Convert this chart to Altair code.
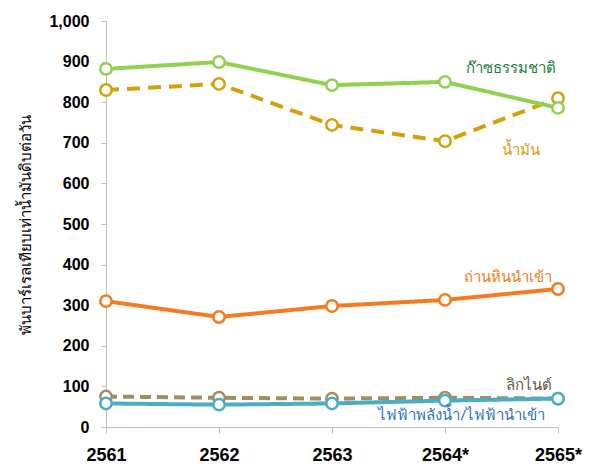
import altair as alt
import pandas as pd

years = ["2561", "2562", "2563", "2564*", "2565*"]
series_names = ["ลิกไนต์", "ไฟฟ้าพลังน้ำ/ไฟฟ้านำเข้า", "ถ่านหินนำเข้า", "น้ำมัน", "ก๊าซธรรมชาติ"]
lignite = [75, 72, 70, 72, 70]
hydro = [58, 55, 58, 65, 70]
coal = [310, 271, 298, 313, 340]
oil = [830, 845, 744, 704, 810]
gas = [882, 899, 842, 850, 786]

line_colors = ["#A08F5C", "#4BACC6", "#F47B20", "#D4A10A", "#92D050"]
label_colors = ["#5F5A45", "#2E75B6", "#F47B20", "#D4A10A", "#1E7B3A"]
dashes = [[11, 6], [1, 0], [1, 0], [13, 8], [1, 0]]
label_x = ["2565*", "2565*", "2565*", "2565*", "2565*"]
label_y = [103, 30, 369, 682, 884]
label_dx = [-6, -13, -6, -18, -2]

values = [lignite, hydro, coal, oil, gas]

yscale = alt.Scale(domain=[0, 1000])
xscale = alt.Scale(domain=years, padding=0)

layers = []
for i, name in enumerate(series_names):
    df = pd.DataFrame({"year": years, "value": values[i], "series": name})
    base = alt.Chart(df).encode(
        x=alt.X("year:N", scale=xscale, sort=years, axis=alt.Axis(
            title=None, labelAngle=0, labelFontSize=18, labelFontWeight="bold",
            labelColor="#000000", labelFont="Liberation Sans", domainColor="#BFBFBF",
            tickColor="#BFBFBF", tickSize=6, labelPadding=13, grid=False)),
        y=alt.Y("value:Q", scale=yscale, axis=alt.Axis(
            title="พันบาร์เรลเทียบเท่าน้ำมันดิบต่อวัน", titleFontSize=15,
            titleFontWeight="normal", titleColor="#000000", titleFont="Noto Sans",
            titlePadding=15, values=list(range(0, 1001, 100)), format=",.0f",
            labelFontSize=16, labelFontWeight="bold", labelColor="#000000",
            labelFont="Liberation Sans", domainColor="#BFBFBF", tickColor="#BFBFBF",
            tickSize=5, labelPadding=12, grid=False)),
    )
    ln = base.mark_line(color=line_colors[i], strokeWidth=4, strokeDash=dashes[i])
    pt = base.mark_point(shape="circle", size=130, filled=True, fill="white",
                         stroke=line_colors[i], strokeWidth=2.5, opacity=1)
    layers += [ln, pt]

for i, name in enumerate(series_names):
    ldf = pd.DataFrame({"year": [label_x[i]], "value": [label_y[i]], "label": [name]})
    txt = alt.Chart(ldf).mark_text(
        align="right", baseline="middle", dx=label_dx[i], fontSize=15,
        font="Noto Sans", color=label_colors[i]
    ).encode(x=alt.X("year:N", scale=xscale, sort=years),
             y=alt.Y("value:Q", scale=yscale), text="label:N")
    layers.append(txt)

chart = alt.layer(*layers).properties(
    width=452, height=406,
    autosize=alt.AutoSizeParams(type="none"),
    padding={"left": 98, "top": 13, "right": 30, "bottom": 42},
).configure_view(stroke=None)

chart.save("out.html", embed_options={"renderer": "svg", "actions": False})
